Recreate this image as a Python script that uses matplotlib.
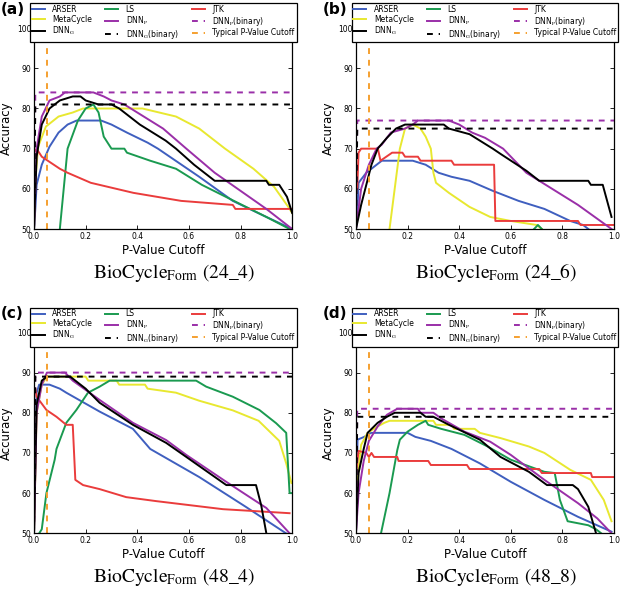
import matplotlib
matplotlib.use('Agg')
import matplotlib.pyplot as plt

plt.rcParams['font.family'] = ['DejaVu Sans']
plt.rcParams['mathtext.fontset'] = 'stix'

PANELS = ['a', 'b', 'c', 'd']
DATASETS = ['24_4', '24_6', '48_4', '48_8']
CUTOFF = 0.05
BINARY_P = [84, 77, 90, 81]
BINARY_G = [81, 75, 89, 79]

# (x, y) per method per panel
ARSER_A = ([0.0, 0.005, 0.01, 0.03, 0.06, 0.095, 0.13, 0.165, 0.26, 0.3, 0.33, 0.36, 0.44, 0.48, 0.64, 0.77, 0.9, 1.0],
           [50, 55, 61, 66, 70.5, 74, 76, 77, 77, 76, 75, 74, 71.5, 70, 63, 57, 53, 50])
META_A = ([0.0, 0.005, 0.016, 0.046, 0.095, 0.15, 0.19, 0.32, 0.42, 0.55, 0.64, 0.74, 0.85, 0.93, 0.985, 1.0],
          [50, 62, 70.5, 75.5, 78, 79, 80, 80, 80, 78, 75, 70, 65, 60.5, 55.5, 54])
DNNG_A = ([0.0, 0.01, 0.03, 0.06, 0.1, 0.15, 0.18, 0.2, 0.25, 0.3, 0.33, 0.41, 0.51, 0.55, 0.62, 0.7, 0.9, 0.91, 0.95, 0.98, 1.0],
          [50, 68, 76, 80, 82, 83, 83, 82, 81, 81, 80, 76, 72, 70, 66, 62, 62, 61, 61, 58, 54])
LS_A = ([0.1, 0.13, 0.17, 0.2, 0.23, 0.25, 0.27, 0.29, 0.3, 0.35, 0.36, 0.45, 0.55, 0.65, 0.79, 0.9, 0.99],
        [50, 70, 77, 80, 81, 79, 73, 71, 70, 70, 69, 67, 65, 61, 56.5, 53, 50])
DNNP_A = ([0.0, 0.01, 0.03, 0.06, 0.1, 0.12, 0.23, 0.27, 0.3, 0.35, 0.4, 0.5, 0.59, 0.7, 0.8, 0.9, 0.95, 1.0],
          [50, 70, 78, 82, 83, 84, 84, 83, 82, 81, 79, 75, 70, 64, 59.5, 55, 52.5, 50])
JTK_A = ([0.0, 0.01, 0.03, 0.1, 0.13, 0.22, 0.385, 0.57, 0.77, 0.78, 1.0],
         [69, 70, 68, 65, 64, 61.5, 59, 57, 56, 55, 55])

ARSER_B = ([0.0, 0.005, 0.01, 0.04, 0.08, 0.1, 0.22, 0.27, 0.32, 0.37, 0.44, 0.53, 0.63, 0.73, 0.83, 0.88, 0.9],
           [50, 54, 61.5, 64, 66, 67, 67, 66, 64, 63, 62, 59.5, 57, 55, 52, 51, 50])
META_B = ([0.13, 0.15, 0.17, 0.19, 0.22, 0.25, 0.27, 0.29, 0.3, 0.31, 0.36, 0.44, 0.52, 0.6, 0.7, 0.72],
          [50, 60, 70, 75, 76, 75, 73, 70, 64, 61.5, 59, 55.5, 53, 52, 51, 50])
DNNG_B = ([0.0, 0.02, 0.04, 0.06, 0.084, 0.12, 0.155, 0.19, 0.34, 0.36, 0.44, 0.53, 0.56, 0.66, 0.71, 0.9, 0.91, 0.956, 0.99],
          [50, 56, 61, 66, 70, 72.7, 75, 76, 76, 75, 73.6, 70, 68.7, 64.5, 62, 62, 61, 61, 53])
LS_B = ([0.69, 0.705, 0.72],
        [50, 51, 50])
DNNP_B = ([0.0, 0.02, 0.05, 0.08, 0.1, 0.135, 0.19, 0.22, 0.24, 0.36, 0.4, 0.45, 0.5, 0.57, 0.66, 0.76, 0.86, 0.99],
          [50, 60, 66, 70, 71, 74, 75, 76, 77, 77, 76, 74, 72.7, 70, 64, 60, 56, 50])
JTK_B = ([0.005, 0.01, 0.02, 0.085, 0.095, 0.14, 0.18, 0.19, 0.24, 0.25, 0.37, 0.38, 0.535, 0.54, 0.86, 0.87, 1.0],
         [60, 69, 70, 70, 67, 69, 69, 68, 68, 67, 67, 66, 66, 52, 52, 51, 51])

ARSER_C = ([0.0, 0.01, 0.02, 0.06, 0.1, 0.125, 0.254, 0.383, 0.45, 0.64, 0.82, 0.976],
           [50, 85, 87, 87, 86, 85, 80.3, 76, 71, 64, 56.6, 50])
META_C = ([0.0, 0.01, 0.03, 0.05, 0.2, 0.21, 0.32, 0.33, 0.43, 0.44, 0.55, 0.64, 0.77, 0.87, 0.95, 0.977, 0.997],
          [50, 80, 87, 89, 89, 88, 88, 87, 87, 86, 85, 83, 80.6, 78, 73, 67.4, 62.5])
DNNG_C = ([0.0, 0.01, 0.03, 0.05, 0.14, 0.2, 0.254, 0.383, 0.512, 0.59, 0.745, 0.86, 0.88, 0.9],
          [50, 82, 88, 89, 89, 86, 82.5, 77, 72.5, 69, 62, 62, 57, 50])
LS_C = ([0.02, 0.03, 0.048, 0.08, 0.087, 0.125, 0.164, 0.209, 0.254, 0.293, 0.628, 0.667, 0.77, 0.873, 0.938, 0.977, 0.99, 1.0],
        [50, 51, 60, 68.3, 71, 77.5, 80.7, 85, 86.5, 88, 88, 86.5, 84, 80.7, 77.4, 75, 60, 60])
DNNP_C = ([0.0, 0.01, 0.03, 0.05, 0.12, 0.15, 0.254, 0.383, 0.512, 0.59, 0.745, 0.9, 0.99],
          [50, 80, 87, 90, 90, 88, 83.2, 77.5, 73.2, 69.5, 62.8, 56.3, 50])
JTK_C = ([0.005, 0.01, 0.048, 0.087, 0.125, 0.15, 0.16, 0.19, 0.254, 0.357, 0.474, 0.603, 0.732, 0.99],
         [86, 84, 80.7, 79, 77, 77, 63.3, 62, 61, 59, 58, 57, 56, 55])

ARSER_D = ([0.0, 0.006, 0.032, 0.058, 0.2, 0.23, 0.29, 0.37, 0.48, 0.6, 0.73, 0.86, 0.99],
           [50, 73.3, 74, 75, 75, 74, 73, 71, 67.4, 62.8, 58.3, 54.1, 50.4])
META_D = ([0.0, 0.01, 0.02, 0.045, 0.084, 0.11, 0.13, 0.3, 0.31, 0.37, 0.38, 0.46, 0.48, 0.56, 0.67, 0.73, 0.83, 0.91, 0.96, 0.99],
          [55, 66, 72, 75, 76.6, 77.5, 78, 78, 77, 77, 76, 76, 75, 73.7, 71.6, 70, 65.8, 63.3, 58.3, 53])
DNNG_D = ([0.0, 0.01, 0.03, 0.045, 0.084, 0.12, 0.15, 0.25, 0.27, 0.3, 0.36, 0.48, 0.56, 0.67, 0.74, 0.84, 0.86, 0.9, 0.93],
          [50, 65, 71, 75, 77.5, 79, 80, 80, 79, 79, 77, 73.3, 69, 65.3, 62, 62, 61, 56.6, 50])
LS_D = ([0.097, 0.13, 0.16, 0.17, 0.2, 0.24, 0.27, 0.28, 0.33, 0.42, 0.51, 0.6, 0.73, 0.77, 0.79, 0.82, 0.9, 0.93, 0.95],
        [50, 60, 70.7, 73.3, 75.3, 77, 78, 77, 76, 74.5, 71.6, 68.3, 65.3, 65, 58.3, 53, 52, 51, 50])
DNNP_D = ([0.0, 0.01, 0.03, 0.05, 0.084, 0.12, 0.16, 0.24, 0.25, 0.3, 0.33, 0.42, 0.52, 0.6, 0.73, 0.86, 0.935, 0.99],
          [50, 60, 68, 73, 76.6, 79.5, 81, 81, 80, 80, 78.6, 75.3, 72.8, 69.5, 63.3, 57.5, 53.7, 50])
JTK_D = ([0.0, 0.01, 0.04, 0.05, 0.06, 0.07, 0.16, 0.165, 0.28, 0.29, 0.43, 0.44, 0.71, 0.72, 0.91, 0.915, 1.0],
         [65, 70.5, 70, 69, 70, 69, 69, 68, 68, 67, 67, 66, 66, 65, 65, 64, 64])

ARSER = [ARSER_A, ARSER_B, ARSER_C, ARSER_D]
META = [META_A, META_B, META_C, META_D]
DNNG = [DNNG_A, DNNG_B, DNNG_C, DNNG_D]
LS = [LS_A, LS_B, LS_C, LS_D]
DNNP = [DNNP_A, DNNP_B, DNNP_C, DNNP_D]
JTK = [JTK_A, JTK_B, JTK_C, JTK_D]

C_BLUE = '#3f5fbf'
C_YELLOW = '#e8e830'
C_GREEN = '#1a9a50'
C_PURPLE = '#9a2fa8'
C_RED = '#ea3c3c'
C_ORANGE = '#f5a030'

# axes rectangles in figure fractions
LEFTS = [0.0547, 0.5723, 0.0547, 0.5723]
BOTTOMS = [0.6112, 0.6112, 0.0946, 0.0946]
W, H = 0.4150, 0.3410

fig = plt.figure(figsize=(6.22, 5.89), dpi=100)

for i in range(4):
    ax = fig.add_axes([LEFTS[i], BOTTOMS[i], W, H])
    lw = 1.4
    h_arser, = ax.plot(*ARSER[i], color=C_BLUE, lw=lw, label='ARSER')
    h_meta, = ax.plot(*META[i], color=C_YELLOW, lw=lw, label='MetaCycle')
    h_ls, = ax.plot(*LS[i], color=C_GREEN, lw=lw, label='LS')
    h_jtk, = ax.plot(*JTK[i], color=C_RED, lw=lw, label='JTK')
    h_dnnp, = ax.plot(*DNNP[i], color=C_PURPLE, lw=lw, label='DNN$_\\mathrm{P}$')
    h_dnng, = ax.plot(*DNNG[i], color='black', lw=lw, label='DNN$_\\mathrm{G}$')
    h_bp, = ax.plot([0, 0.005, 1], [50, BINARY_P[i], BINARY_P[i]], color=C_PURPLE, lw=lw,
                    ls=(0, (3, 3)), label='DNN$_\\mathrm{P}$(binary)')
    h_bg, = ax.plot([0, 0.005, 1], [50, BINARY_G[i], BINARY_G[i]], color='black', lw=lw,
                    ls=(0, (3, 3)), label='DNN$_\\mathrm{G}$(binary)')
    h_cut, = ax.plot([CUTOFF, CUTOFF], [50, 100], color=C_ORANGE, lw=lw,
                     ls=(0, (3, 3)), label='Typical P-Value Cutoff')

    ax.set_xlim(0, 1)
    ax.set_ylim(50, 100)
    ax.set_xticks([0, 0.2, 0.4, 0.6, 0.8, 1.0])
    ax.set_yticks([50, 60, 70, 80, 90, 100])
    ax.tick_params(direction='in', labelsize=5.5, length=3, width=0.6,
                   top=True, right=True, pad=2)
    for s in ax.spines.values():
        s.set_linewidth(0.9)
    ax.set_xlabel('P-Value Cutoff', fontsize=8.5, labelpad=2)
    ax.set_ylabel('Accuracy', fontsize=8.5, labelpad=3)

    handles = [h_arser, h_meta, h_dnng, h_ls, h_dnnp, h_bg, h_jtk, h_bp, h_cut]
    leg = ax.legend(handles=handles, ncol=3, loc='upper center',
                    bbox_to_anchor=(0.5, 1.124), fontsize=5.5, frameon=True,
                    fancybox=False, edgecolor='black', framealpha=1,
                    handlelength=1.7, handletextpad=1.0, columnspacing=1.7,
                    labelspacing=0.08, borderpad=0.25, borderaxespad=0)
    leg.get_frame().set_linewidth(0.9)

    # panel tag and dataset caption
    fig.text(LEFTS[i] - 0.054, BOTTOMS[i] + H + 0.032, '(' + PANELS[i] + ')',
             fontsize=11, fontweight='bold', ha='left', va='center')
    fig.text(LEFTS[i] + W / 2 + 0.018, BOTTOMS[i] - 0.074,
             '$\\mathrm{BioCycle}_{\\mathrm{Form}}\\ (' + DATASETS[i].replace('_', '\\_') + ')$',
             fontsize=14, ha='center', va='center')

fig.savefig('out.png', dpi=100)
